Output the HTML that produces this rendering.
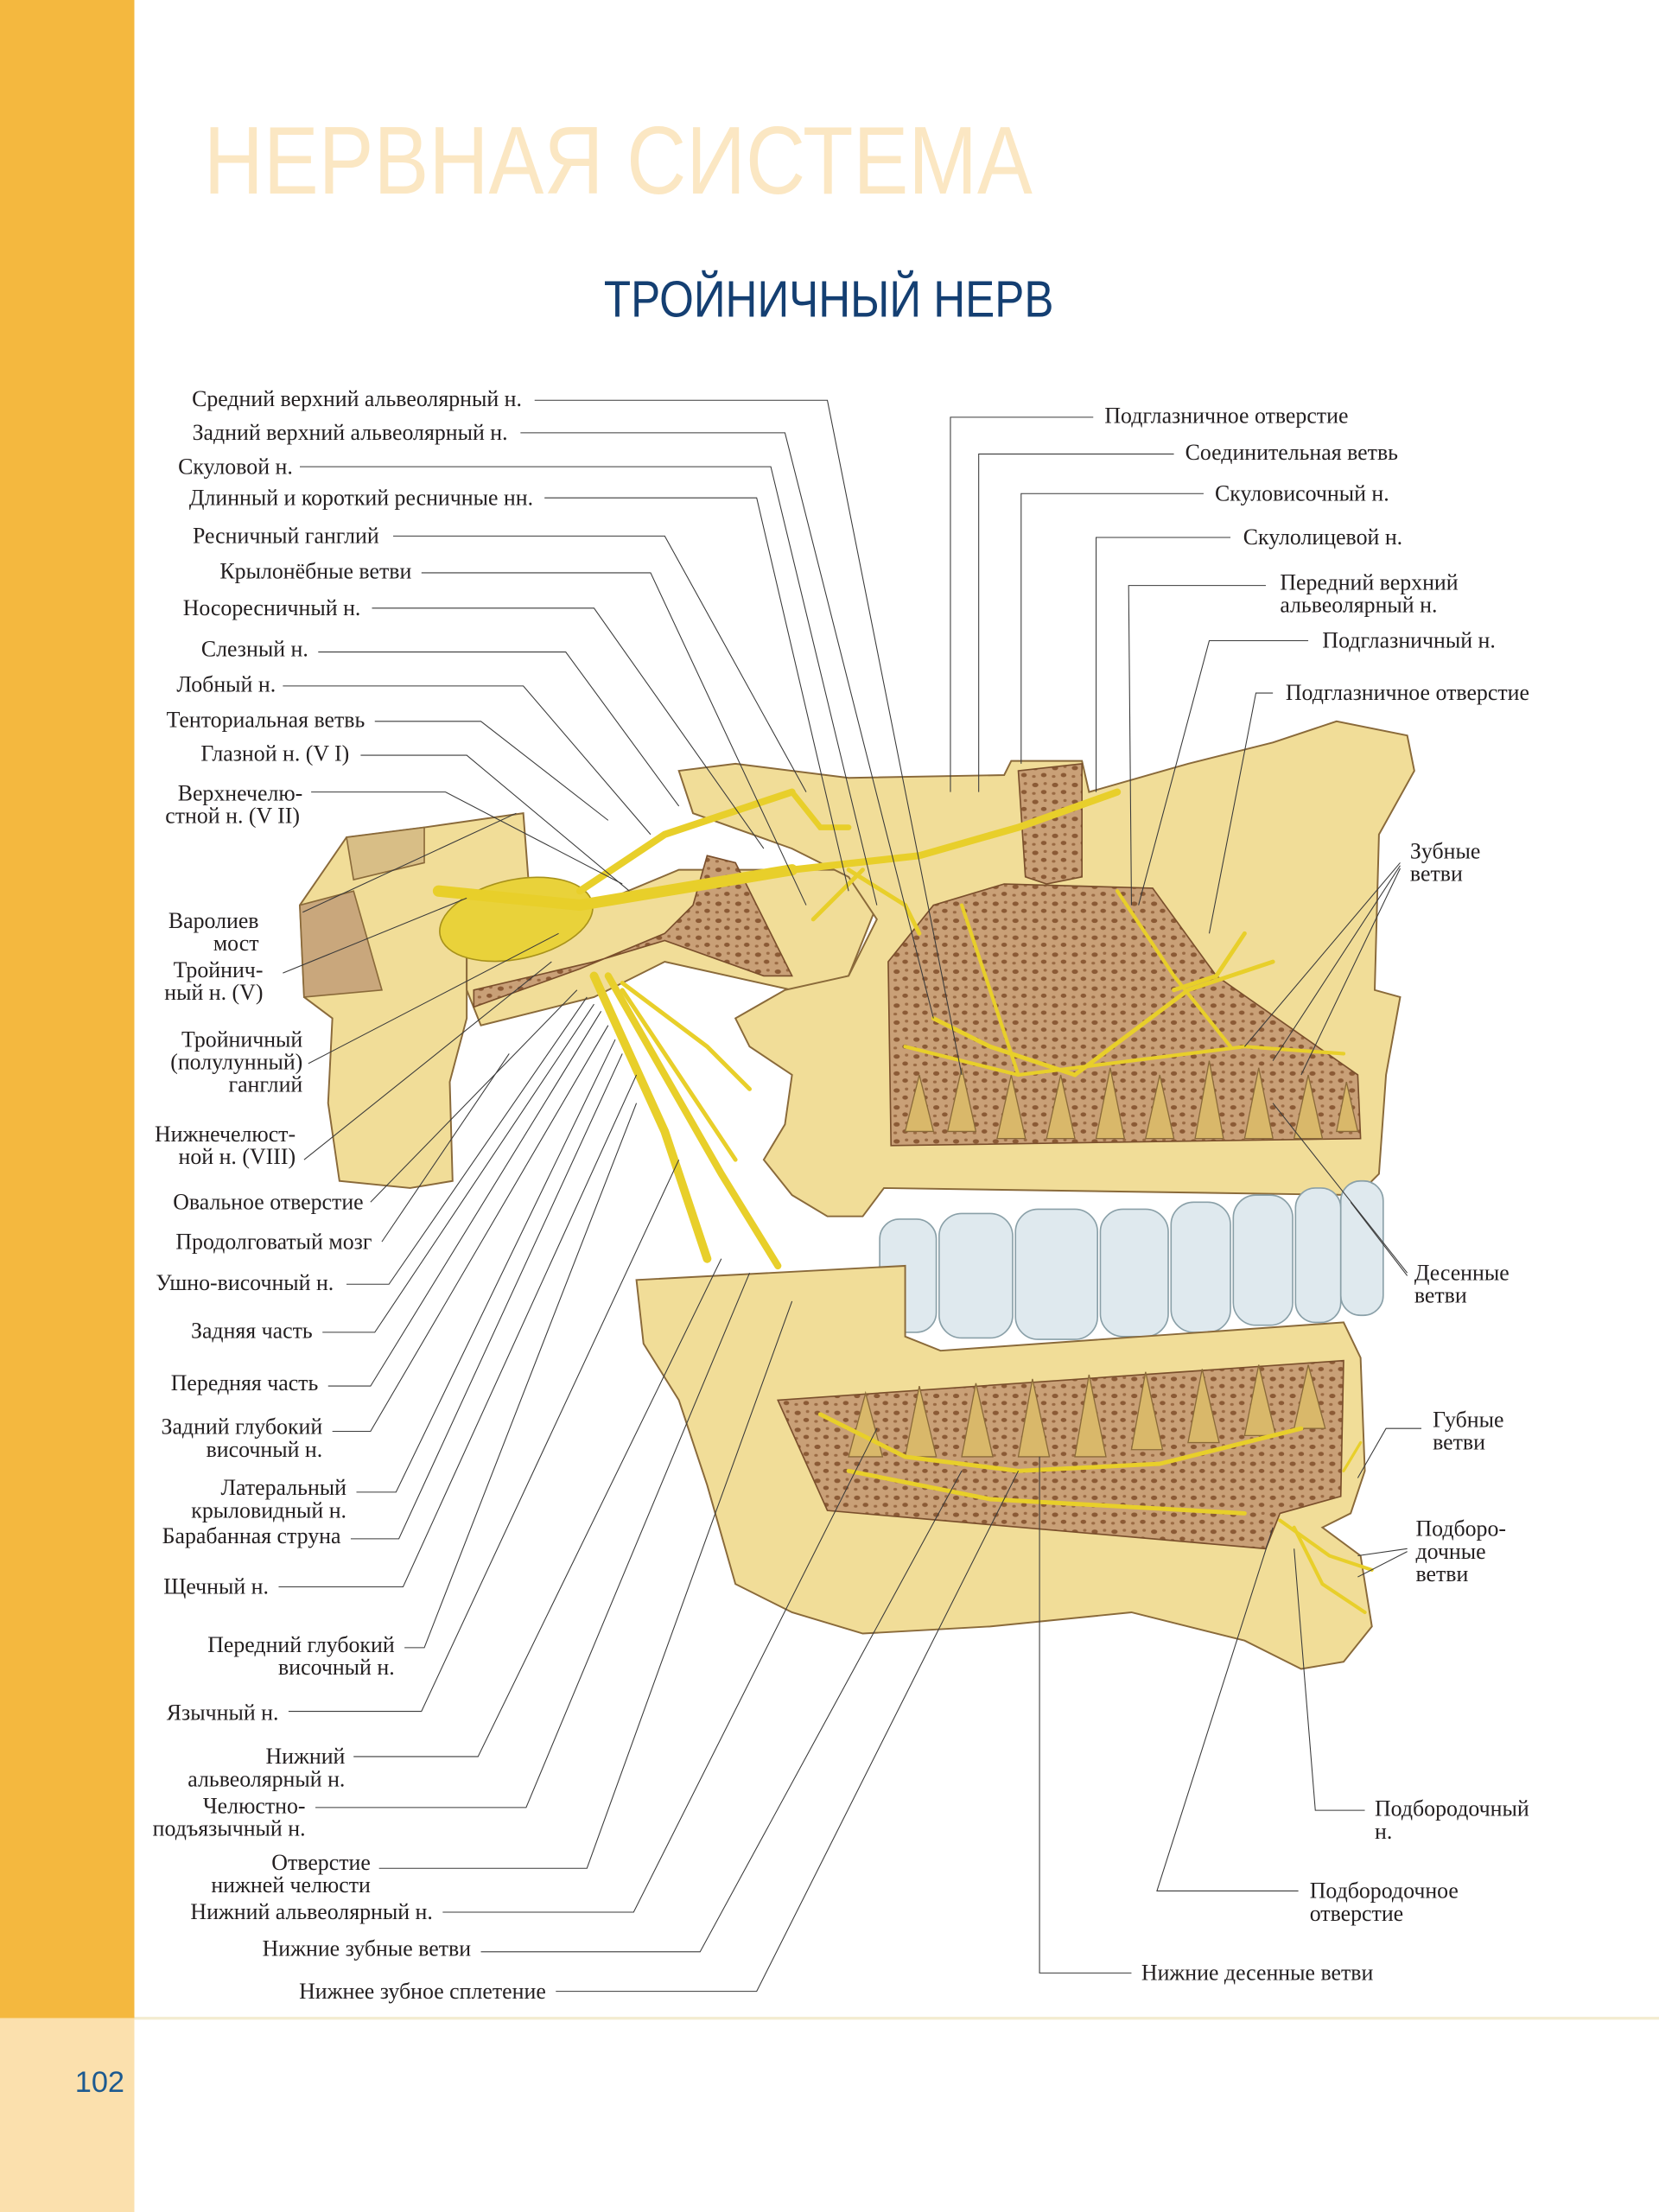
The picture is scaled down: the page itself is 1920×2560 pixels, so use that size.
<!DOCTYPE html>
<html><head><meta charset="utf-8"><style>
html,body{margin:0;padding:0;background:#fff}
svg{display:block}
.l{font-family:"Liberation Serif","DejaVu Serif",serif;font-size:15.8px;fill:#231f20}
.ld{fill:none;stroke:#3a3a3a;stroke-width:0.65}
.bone{fill:#f1dd98;stroke:#8a6a3a;stroke-width:1.2}
.nv{fill:none;stroke:#e8cf2a;stroke-linecap:round}
.tooth{fill:#dfe9ee;stroke:#8aa0a8;stroke-width:1}
.root{fill:#d9b86a;stroke:#8a6a3a;stroke-width:0.8}
</style></head><body>
<svg width="1920" height="2560" viewBox="0 0 1173 1564" preserveAspectRatio="none" xmlns="http://www.w3.org/2000/svg">
<defs>
<pattern id="spong" width="14" height="12" patternUnits="userSpaceOnUse">
<rect width="14" height="12" fill="#c9a077"/>
<ellipse cx="4" cy="3" rx="2.2" ry="1.6" fill="#8b5a35"/>
<ellipse cx="10" cy="8" rx="2" ry="1.5" fill="#8b5a35"/>
<ellipse cx="11" cy="2" rx="1.2" ry="1" fill="#9a6a43"/>
<ellipse cx="3" cy="9" rx="1.3" ry="1" fill="#9a6a43"/>
</pattern>
</defs>
<rect x="0" y="0" width="95" height="1427" fill="#f4b83f"/>
<rect x="0" y="1427" width="95" height="137" fill="#fbe0ad"/>
<rect x="95" y="1426" width="1078" height="2" fill="#f3ecd0"/>
<text x="53" y="1479" font-family="Liberation Sans,sans-serif" font-size="21" fill="#1d5a90" textLength="35">102</text>
<text x="144" y="137" font-family="Liberation Sans,sans-serif" font-size="68" fill="#fbe7c3" textLength="586" lengthAdjust="spacingAndGlyphs">НЕРВНАЯ СИСТЕМА</text>
<text x="427" y="224" font-family="Liberation Sans,sans-serif" font-size="36" fill="#143f72" textLength="318" lengthAdjust="spacingAndGlyphs">ТРОЙНИЧНЫЙ НЕРВ</text>

<path class="bone" d="M245,592 L300,585 L370,575 L375,640 L330,650 L330,720 L318,765 L320,835 L290,840 L240,835 L232,780 L235,720 L215,705 L212,640 Z"/>
<path d="M212,640 L250,630 L270,700 L215,705 Z" fill="#c9a77c" stroke="#8a6a3a"/>
<path d="M245,592 L300,585 L300,610 L250,622 Z" fill="#d8be86" stroke="#8a6a3a"/>
<path class="bone" d="M330,700 L330,650 L420,640 L480,615 L600,615 L620,640 L600,690 L560,700 L470,680 L420,705 L340,725 Z"/>
<path style="fill:url(#spong);stroke:#7a4f2c" d="M335,712 L335,700 L420,680 L470,665 L540,690 L560,690 L520,610 L500,605 L490,640 L470,660 L410,685 Z"/>
<path class="bone" d="M480,545 L520,540 L600,550 L710,548 L715,538 L765,538 L770,560 L840,540 L900,525 L945,510 L995,520 L1000,545 L975,590 L972,700 L990,705 L980,760 L975,830 L960,845 L625,840 L610,860 L585,860 L560,845 L540,820 L555,795 L560,760 L530,740 L520,720 L555,700 L600,690 L620,650 L600,620 L560,600 L490,575 Z"/>
<path style="fill:url(#spong);stroke:#7a4f2c" d="M720,545 L765,540 L765,620 L740,625 L725,620 Z"/>
<path style="fill:url(#spong);stroke:#7a4f2c" d="M628,680 L660,640 L710,625 L815,628 L860,690 L960,760 L962,805 L630,810 Z"/>
<g class="root">
<path d="M640,800 L650,760 L660,800Z"/><path d="M670,800 L680,755 L690,800Z"/><path d="M705,805 L715,760 L725,805Z"/><path d="M740,805 L750,760 L760,805Z"/><path d="M775,805 L785,755 L795,805Z"/><path d="M810,805 L820,760 L830,805Z"/><path d="M845,805 L855,750 L865,805Z"/><path d="M880,805 L890,755 L900,805Z"/><path d="M915,805 L925,760 L935,805Z"/><path d="M945,800 L952,765 L960,800Z"/>
</g>
<g class="tooth">
<rect x="622" y="862" width="40" height="80" rx="14"/>
<rect x="664" y="858" width="52" height="88" rx="16"/>
<rect x="718" y="855" width="58" height="92" rx="16"/>
<rect x="778" y="855" width="48" height="90" rx="16"/>
<rect x="828" y="850" width="42" height="92" rx="16"/>
<rect x="872" y="845" width="42" height="92" rx="16"/>
<rect x="916" y="840" width="32" height="95" rx="14"/>
<rect x="948" y="835" width="30" height="95" rx="14"/>
</g>
<path class="bone" d="M450,905 L640,895 L640,945 L665,955 L950,935 L962,960 L965,1040 L955,1070 L935,1080 L962,1100 L970,1150 L950,1175 L920,1180 L880,1160 L800,1140 L700,1150 L610,1155 L560,1140 L520,1120 L500,1050 L480,990 L455,950 Z"/>
<path style="fill:url(#spong);stroke:#7a4f2c" d="M550,990 L950,962 L948,1058 L905,1070 L895,1095 L585,1068 Z"/>
<g class="root">
<path d="M600,1030 L612,985 L624,1030Z"/><path d="M640,1030 L650,980 L662,1030Z"/><path d="M680,1030 L690,978 L702,1030Z"/><path d="M720,1030 L730,975 L742,1030Z"/><path d="M760,1030 L770,972 L782,1030Z"/><path d="M800,1025 L810,970 L822,1025Z"/><path d="M840,1020 L850,968 L862,1020Z"/><path d="M880,1015 L890,965 L902,1015Z"/><path d="M915,1010 L925,965 L937,1010Z"/>
</g>
<ellipse cx="365" cy="650" rx="55" ry="28" fill="#e9d23a" stroke="#a8921a" transform="rotate(-12 365 650)"/>
<g class="nv">
<path stroke-width="8" d="M310,630 L410,640 L500,625 L560,615"/>
<path stroke-width="5" d="M410,630 L470,590 L530,570 L560,560"/>
<path stroke-width="4" d="M560,560 L580,585 L600,585"/>
<path stroke-width="5" d="M560,615 L650,605 L720,585 L790,560"/>
<path stroke-width="3" d="M600,615 L640,640 L650,660"/>
<path stroke-width="3" d="M610,615 L575,650"/>
<path stroke-width="6" d="M420,690 L470,800 L500,890"/>
<path stroke-width="5" d="M430,690 L510,830 L550,895"/>
<path stroke-width="3" d="M440,695 L500,740 L530,770"/>
<path stroke-width="3" d="M440,700 L480,760 L520,820"/>
<path stroke-width="3" d="M660,720 L700,740 L760,760 L840,700 L900,680"/>
<path stroke-width="2.5" d="M640,740 L720,760 L800,750 L880,740 L950,745"/>
<path stroke-width="2.5" d="M680,640 L700,700 L720,760"/>
<path stroke-width="2.5" d="M790,630 L830,690 L870,740"/>
<path stroke-width="3" d="M880,660 L860,690 L830,700"/>
<path stroke-width="3" d="M580,1000 L640,1030 L720,1040 L820,1035 L920,1010"/>
<path stroke-width="3" d="M600,1040 L700,1060 L880,1070"/>
<path stroke-width="2.5" d="M905,1075 L940,1100 L970,1110"/>
<path stroke-width="2.5" d="M915,1080 L935,1120 L965,1140"/>
<path stroke-width="2" d="M950,1040 L962,1020"/>
</g>

<g class="ld">
<polyline points="378,283 585,283 680,760"/>
<polyline points="368,306 555,306 660,720"/>
<polyline points="212,330 545,330 620,640"/>
<polyline points="385,352 535,352 600,630"/>
<polyline points="278,379 470,379 570,560"/>
<polyline points="298,405 460,405 570,640"/>
<polyline points="263,430 420,430 540,600"/>
<polyline points="225,461 400,461 480,570"/>
<polyline points="200,485 370,485 460,590"/>
<polyline points="265,510 340,510 430,580"/>
<polyline points="255,534 330,534 445,630"/>
<polyline points="220,560 315,560 440,625"/>
<polyline points="214,645 365,575"/>
<polyline points="200,688 330,635"/>
<polyline points="218,752 395,660"/>
<polyline points="215,820 390,680"/>
<polyline points="262,850 408,700"/>
<polyline points="270,878 360,745"/>
<polyline points="245,908 275,908 415,705"/>
<polyline points="228,942 265,942 420,710"/>
<polyline points="232,980 262,980 425,715"/>
<polyline points="235,1012 262,1012 430,725"/>
<polyline points="252,1055 280,1055 435,735"/>
<polyline points="248,1088 282,1088 440,745"/>
<polyline points="197,1122 285,1122 450,760"/>
<polyline points="286,1165 300,1165 450,780"/>
<polyline points="204,1210 298,1210 480,820"/>
<polyline points="250,1242 338,1242 510,890"/>
<polyline points="223,1278 372,1278 530,900"/>
<polyline points="268,1321 415,1321 560,920"/>
<polyline points="313,1352 448,1352 620,1010"/>
<polyline points="340,1380 495,1380 680,1040"/>
<polyline points="393,1408 535,1408 720,1040"/>
<polyline points="773,295 672,295 672,560"/>
<polyline points="830,321 692,321 692,560"/>
<polyline points="851,349 722,349 722,540"/>
<polyline points="870,380 775,380 775,560"/>
<polyline points="895,414 798,414 800,640"/>
<polyline points="925,453 855,453 805,640"/>
<polyline points="900,490 888,490 855,660"/>
<polyline points="990,610 880,740"/>
<polyline points="990,612 900,750"/>
<polyline points="990,614 920,760"/>
<polyline points="995,900 900,780"/>
<polyline points="995,902 955,850"/>
<polyline points="1005,1010 980,1010 960,1045"/>
<polyline points="995,1095 960,1100"/>
<polyline points="995,1097 960,1115"/>
<polyline points="965,1280 930,1280 915,1095"/>
<polyline points="918,1337 818,1337 900,1080"/>
<polyline points="800,1395 735,1395 735,1030"/>
</g>

<g class="l">
<g text-anchor="end">
<text x="369" y="287">Средний верхний альвеолярный н.</text>
<text x="359" y="311">Задний верхний альвеолярный н.</text>
<text x="207" y="335">Скуловой н.</text>
<text x="377" y="357">Длинный и короткий ресничные нн.</text>
<text x="268" y="384">Ресничный ганглий</text>
<text x="291" y="409">Крылонёбные ветви</text>
<text x="255" y="435">Носоресничный н.</text>
<text x="218" y="464">Слезный н.</text>
<text x="195" y="489">Лобный н.</text>
<text x="258" y="514">Тенториальная ветвь</text>
<text x="247" y="538">Глазной н. (V I)</text>
<text x="214" y="566">Верхнечелю-</text>
<text x="212" y="582">стной н. (V II)</text>
<text x="183" y="656">Варолиев</text>
<text x="183" y="672">мост</text>
<text x="186" y="691">Тройнич-</text>
<text x="186" y="707">ный н. (V)</text>
<text x="214" y="740">Тройничный</text>
<text x="214" y="756">(полулунный)</text>
<text x="214" y="772">ганглий</text>
<text x="209" y="807">Нижнечелюст-</text>
<text x="209" y="823">ной н. (VIII)</text>
<text x="257" y="855">Овальное отверстие</text>
<text x="263" y="883">Продолговатый мозг</text>
<text x="236" y="912">Ушно-височный н.</text>
<text x="221" y="946">Задняя часть</text>
<text x="225" y="983">Передняя часть</text>
<text x="228" y="1014">Задний глубокий</text>
<text x="228" y="1030">височный н.</text>
<text x="245" y="1057">Латеральный</text>
<text x="245" y="1073">крыловидный н.</text>
<text x="241" y="1091">Барабанная струна</text>
<text x="190" y="1127">Щечный н.</text>
<text x="279" y="1168">Передний глубокий</text>
<text x="279" y="1184">височный н.</text>
<text x="197" y="1216">Язычный н.</text>
<text x="244" y="1247">Нижний</text>
<text x="244" y="1263">альвеолярный н.</text>
<text x="216" y="1282">Челюстно-</text>
<text x="216" y="1298">подъязычный н.</text>
<text x="262" y="1322">Отверстие</text>
<text x="262" y="1338">нижней челюсти</text>
<text x="306" y="1357">Нижний альвеолярный н.</text>
<text x="333" y="1383">Нижние зубные ветви</text>
<text x="386" y="1413">Нижнее зубное сплетение</text>
</g>
<text x="781" y="299">Подглазничное отверстие</text>
<text x="838" y="325">Соединительная ветвь</text>
<text x="859" y="354">Скуловисочный н.</text>
<text x="879" y="385">Скулолицевой н.</text>
<text x="905" y="417">Передний верхний</text>
<text x="905" y="433">альвеолярный н.</text>
<text x="935" y="458">Подглазничный н.</text>
<text x="909" y="495">Подглазничное отверстие</text>
<text x="997" y="607">Зубные</text>
<text x="997" y="623">ветви</text>
<text x="1000" y="905">Десенные</text>
<text x="1000" y="921">ветви</text>
<text x="1013" y="1009">Губные</text>
<text x="1013" y="1025">ветви</text>
<text x="1001" y="1086">Подборо-</text>
<text x="1001" y="1102">дочные</text>
<text x="1001" y="1118">ветви</text>
<text x="972" y="1284">Подбородочный</text>
<text x="972" y="1300">н.</text>
<text x="926" y="1342">Подбородочное</text>
<text x="926" y="1358">отверстие</text>
<text x="807" y="1400">Нижние десенные ветви</text>
</g>
</svg>
</body></html>
